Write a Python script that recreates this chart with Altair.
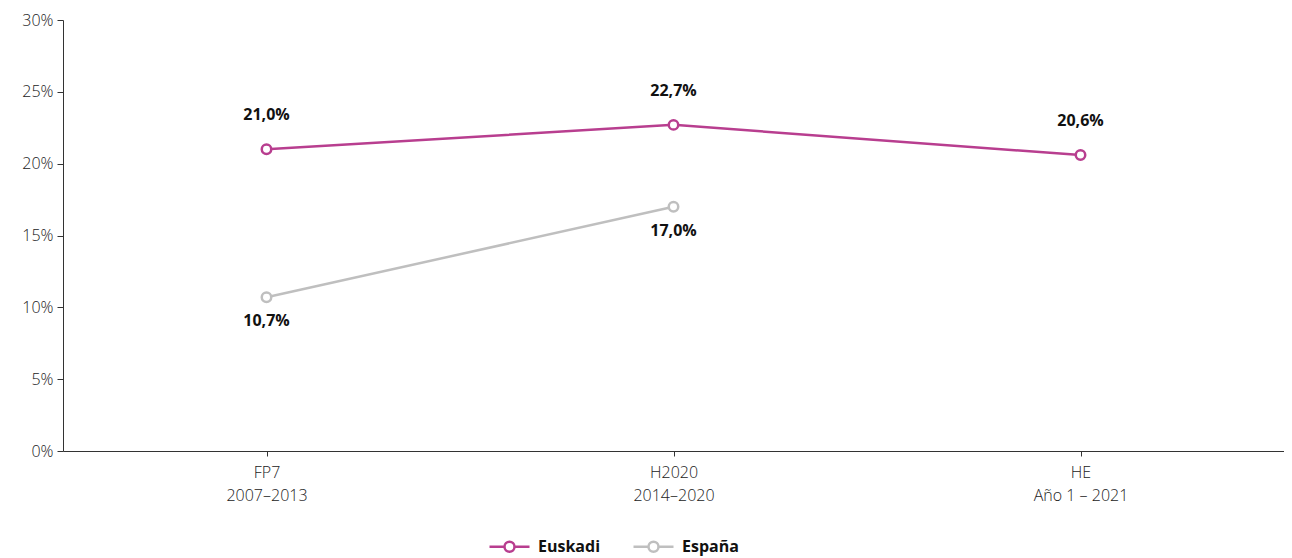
import altair as alt
import pandas as pd

periods = ["FP7\n2007–2013", "H2020\n2014–2020", "HE\nAño 1 – 2021"]
euskadi = [21.0, 22.7, 20.6]
espana = [10.7, 17.0]
series = ["Euskadi", "España"]
colors = ["#B83E8F", "#BFBFBF"]

rows = []
for p, v in zip(periods, euskadi):
    rows.append({"periodo": p, "serie": "Euskadi", "valor": v})
for p, v in zip(periods, espana):
    rows.append({"periodo": p, "serie": "España", "valor": v})
df = pd.DataFrame(rows)

FONT = "Open Sans"

x = alt.X("periodo:N", sort=periods, title=None,
          scale=alt.Scale(type="point", padding=0.5),
          axis=alt.Axis(labelExpr="split(datum.label, '\\n')", labelAngle=0,
                        labelFontSize=16, labelLineHeight=23, labelPadding=8,
                        labelColor="#222", tickSize=5, tickColor="#333",
                        domainColor="#333", labelFont=FONT, labelFontWeight=300,
                        grid=False))
y = alt.Y("valor:Q", title=None,
          scale=alt.Scale(domain=[0, 30], nice=False),
          axis=alt.Axis(values=[0, 5, 10, 15, 20, 25, 30], labelExpr="datum.value + '%'",
                        grid=False, tickSize=6, tickColor="#333", domainColor="#333",
                        labelFontSize=16, labelColor="#222", labelPadding=4,
                        labelFont=FONT, labelFontWeight=300))
color = alt.Color("serie:N", scale=alt.Scale(domain=series, range=colors),
                  legend=alt.Legend(title=None, orient="none", legendX=435, legendY=515,
                                    direction="horizontal",
                                    symbolType="M-2,0L-0.5,0M0.5,0L2,0M-0.5,0A0.5,0.5 0 1,0 0.5,0A0.5,0.5 0 1,0 -0.5,0",
                                    symbolSize=400, symbolStrokeWidth=2.5,
                                    symbolFillColor="white",
                                    labelFontSize=16, labelFontWeight="bold",
                                    labelColor="#111", labelFont=FONT,
                                    columnPadding=27, symbolOffset=0, labelOffset=17))

base = alt.Chart(df)
lines = base.mark_line(strokeWidth=2.5).encode(x=x, y=y, color=color)
points = base.mark_point(filled=True, fill="white", size=90, strokeWidth=2.5, opacity=1).encode(
    x=x, y=y, stroke=alt.Stroke("serie:N", scale=alt.Scale(domain=series, range=colors), legend=None))

lab = base.transform_calculate(
    txt="replace(format(datum.valor, '.1f'), '.', ',') + '%'")
text_e = lab.transform_filter("datum.serie == 'Euskadi'").mark_text(
    dy=-34, fontSize=16, fontWeight="bold", color="#111", font=FONT).encode(x=x, y=y, text="txt:N")
text_s = lab.transform_filter("datum.serie == 'España'").mark_text(
    dy=24, fontSize=16, fontWeight="bold", color="#111", font=FONT).encode(x=x, y=y, text="txt:N")

chart = alt.layer(lines, points, text_e, text_s).properties(
    width=1221, height=431,
    padding={"left": 55, "top": 12, "right": 0, "bottom": 107},
    autosize=alt.AutoSizeParams(type="none"),
).configure(background="white", view=alt.ViewConfig(stroke=None))

chart.save("out.html", embed_options={"renderer": "svg", "actions": False})
